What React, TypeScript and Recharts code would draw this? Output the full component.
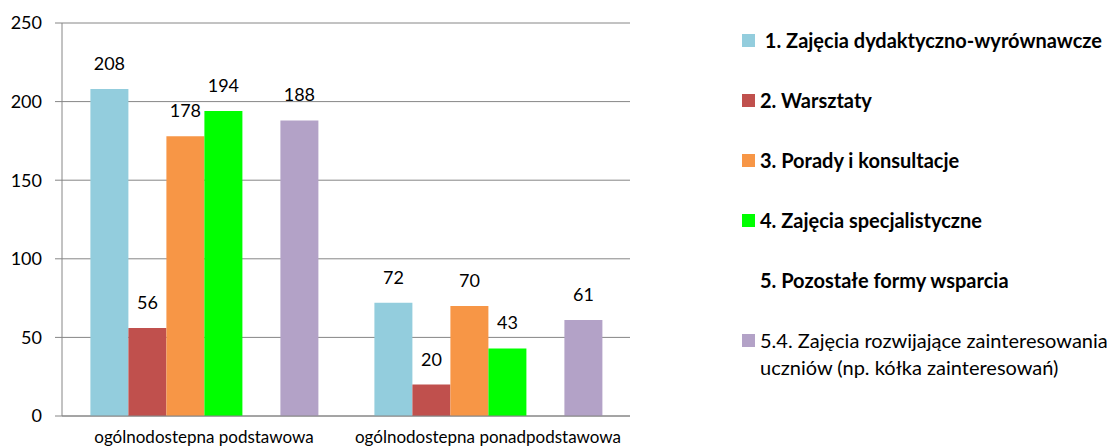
import { BarChart, Bar, XAxis, YAxis, CartesianGrid, LabelList } from "recharts";

const categories = ["ogólnodostepna podstawowa", "ogólnodostepna ponadpodstawowa"];
const zajeciaDydaktyczne = [208, 72];
const warsztaty = [56, 20];
const porady = [178, 70];
const specjalistyczne = [194, 43];
const pozostale: (number | null)[] = [null, null];
const rozwijajace = [188, 61];
const yTicks = [0, 50, 100, 150, 200, 250];

const series = [
  { key: "s1", name: " 1. Zajęcia dydaktyczno-wyrównawcze", values: zajeciaDydaktyczne, color: "#93CDDD", bold: true },
  { key: "s2", name: "2. Warsztaty", values: warsztaty, color: "#C0504D", bold: true },
  { key: "s3", name: "3. Porady i konsultacje", values: porady, color: "#F79646", bold: true },
  { key: "s4", name: "4. Zajęcia specjalistyczne", values: specjalistyczne, color: "#00FF00", bold: true },
  { key: "s5", name: "5. Pozostałe formy wsparcia", values: pozostale, color: "transparent", bold: true },
  {
    key: "s6",
    name: "5.4. Zajęcia rozwijające zainteresowania\nuczniów (np. kółka zainteresowań)",
    values: rozwijajace,
    color: "#B3A2C7",
    bold: false,
  },
];

const data = categories.map((name, i) => {
  const row: Record<string, string | number | null> = { name };
  series.forEach((s) => {
    row[s.key] = s.values[i];
  });
  return row;
});

const axisColor = "#868686";
const font = "Lato, 'Open Sans', sans-serif";

const Legend = () => (
  <div style={{ position: "absolute", left: 742, top: 0 }}>
    {series.map((s, i) => (
      <div
        key={s.key}
        style={{
          position: "absolute",
          top: 40 + i * 60 - 13,
          left: 0,
          display: "flex",
          alignItems: "flex-start",
          whiteSpace: "pre",
        }}
      >
        <div
          style={{
            width: 13,
            height: 13,
            marginTop: 7,
            background: s.color,
            flex: "none",
          }}
        />
        <div
          style={{
            marginLeft: 5,
            fontSize: 20,
            lineHeight: "27px",
            fontWeight: s.bold ? 700 : 400,
            color: "#000",
          }}
        >
          {s.name}
        </div>
      </div>
    ))}
  </div>
);

export default function App() {
  return (
    <div
      style={{
        position: "absolute",
        left: 0,
        top: 0,
        width: 1107,
        height: 447,
        background: "#fff",
        fontFamily: font,
        overflow: "hidden",
      }}
    >
      <BarChart
        width={1107}
        height={447}
        data={data}
        margin={{ top: 23, right: 477, bottom: 0, left: 0 }}
        barCategoryGap="10%"
        barGap={0}
      >
        <CartesianGrid vertical={false} stroke={axisColor} strokeWidth={1} />
        <XAxis
          xAxisId="edges"
          type="number"
          domain={[0, 2]}
          ticks={[0, 1, 2]}
          axisLine={false}
          tickLine={{ stroke: axisColor }}
          tickSize={7}
          tickFormatter={() => ""}
          height={0}
        />
        <XAxis
          dataKey="name"
          axisLine={{ stroke: axisColor }}
          tickLine={false}
          tickMargin={9}
          height={31}
          tick={{ fill: "#000", fontSize: 17 }}
          interval={0}
        />
        <YAxis
          width={62}
          domain={[0, 250]}
          ticks={yTicks}
          axisLine={{ stroke: axisColor }}
          tickLine={{ stroke: axisColor }}
          tickSize={7}
          tickMargin={13}
          tick={{ fill: "#000", fontSize: 18 }}
        />
        {series.map((s) => (
          <Bar key={s.key} dataKey={s.key} name={s.name} fill={s.color} isAnimationActive={false}>
            {s.key !== "s5" && (
              <LabelList dataKey={s.key} position="top" offset={19} fill="#000" fontSize={18} />
            )}
          </Bar>
        ))}
      </BarChart>
      <Legend />
    </div>
  );
}
